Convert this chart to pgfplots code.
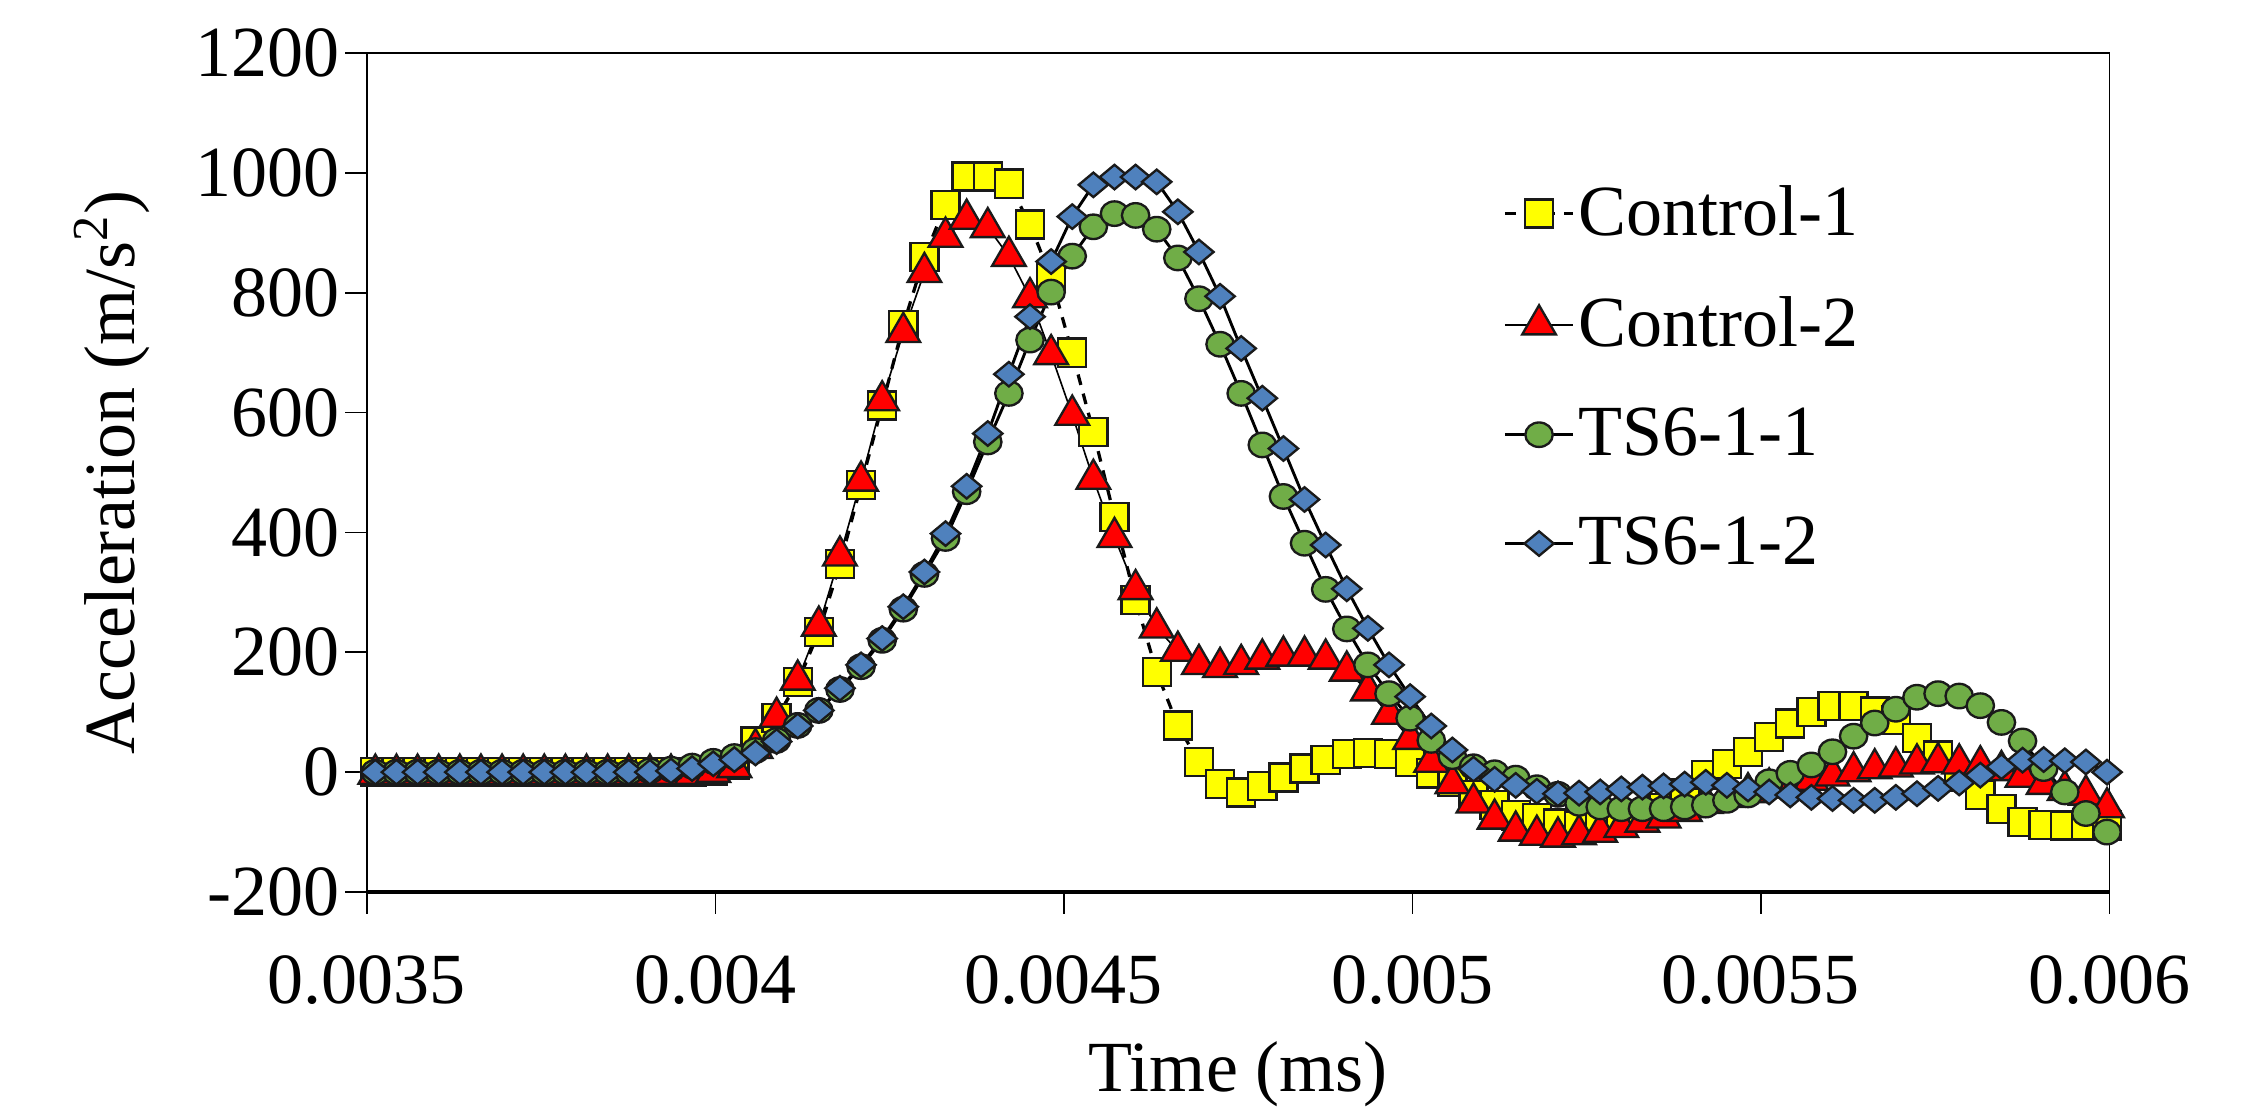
\documentclass[border=0pt]{standalone}
\usepackage{fontspec}
\setmainfont{Liberation Serif}
\usepackage{pgfplots}
\pgfplotsset{compat=1.18}
\usepackage{pgfplotstable}

\definecolor{cyel}{HTML}{FFFF00}
\definecolor{cred}{HTML}{FF0000}
\definecolor{cgreen}{HTML}{70AD47}
\definecolor{cblue}{HTML}{4F81BD}
\definecolor{mdark}{HTML}{1A1A1A}

% t = time, c1/c2 = Control-1/-2, g1/g2 = TS6-1-1/TS6-1-2
\pgfplotstableread{
t c1 c2 g1 g2
0.0035120 0 -3 0 0
0.0035423 0 -3 0 0
0.0035726 0 -3 0 0
0.0036029 0 -3 0 0
0.0036332 0 -3 0 0
0.0036635 0 -3 0 0
0.0036938 0 -3 0 0
0.0037241 0 -3 0 0
0.0037544 0 -3 0 0
0.0037847 0 -3 0 0
0.0038150 0 -3 0 0
0.0038453 0 -3 0 0
0.0038756 0 -3 0 0
0.0039059 0 -3 2 0
0.0039362 0 -3 5 2
0.0039665 0 -3 10 6
0.0039968 3 0 18 14
0.0040271 12 8 26 21
0.0040574 51 40 36 32
0.0040877 90 92 53 51
0.0041180 150 154 78 77
0.0041483 234 244 103 103
0.0041786 347 361 138 140
0.0042089 479 486 176 179
0.0042392 612 620 220 223
0.0042695 746 734 272 276
0.0042998 860 834 330 334
0.0043301 946 893 390 398
0.0043604 994 923 468 477
0.0043907 994 909 551 565
0.0044210 982 861 632 664
0.0044513 914 792 721 760
0.0044816 825 697 801 852
0.0045119 700 596 861 927
0.0045422 568 489 910 980
0.0045725 426 392 932 993
0.0046028 287 305 929 993
0.0046331 167 241 906 985
0.0046634 78 202 858 935
0.0046937 17 180 790 868
0.0047240 -20 175 714 794
0.0047543 -34 180 632 707
0.0047846 -23 189 546 624
0.0048149 -9 194 460 540
0.0048452 6 194 382 455
0.0048755 20 189 305 379
0.0049058 30 169 239 306
0.0049361 32 136 179 240
0.0049664 30 97 131 179
0.0049967 17 55 90 126
0.0050270 -2 17 53 77
0.0050573 -16 -19 26 37
0.0050876 -38 -51 9 5
0.0051179 -55 -78 -1 -12
0.0051482 -72 -98 -10 -22
0.0051785 -77 -105 -26 -32
0.0052088 -86 -108 -37 -36
0.0052391 -89 -104 -52 -35
0.0052694 -88 -100 -58 -33
0.0052997 -84 -92 -61 -28
0.0053300 -75 -83 -61 -25
0.0053603 -60 -76 -61 -23
0.0053906 -35 -65 -58 -20
0.0054209 -5 -52 -55 -17
0.0054512 14 -42 -47 -22
0.0054815 34 -34 -38 -28
0.0055118 59 -26 -16 -33
0.0055421 81 -19 -2 -38
0.0055724 100 -13 12 -42
0.0056027 110 -6 34 -44
0.0056330 110 1 60 -47
0.0056633 101 6 82 -47
0.0056936 87 9 105 -42
0.0057239 57 14 125 -36
0.0057542 28 16 131 -27
0.0057845 -8 14 127 -18
0.0058148 -38 11 111 -5
0.0058451 -61 3 83 9
0.0058754 -83 -8 52 20
0.0059057 -88 -20 6 21
0.0059360 -89 -30 -33 19
0.0059663 -89 -38 -69 17
0.0059966 -89 -59 -100 0
}\accdata

\begin{document}
\begin{tikzpicture}
  \begin{axis}[
    at={(0,0)}, anchor=south west,
    scale only axis,
    width=484pt, height=233.06pt,
    xmin=0.0035, xmax=0.006,
    ymin=-200, ymax=1200,
    xtick={0.0035,0.004,0.0045,0.005,0.0055,0.006},
    xticklabels={0.0035,0.004,0.0045,0.005,0.0055,0.006},
    ytick={-200,0,...,1200},
    scaled x ticks=false,
    /pgf/number format/1000 sep={},
    /pgf/number format/assume math mode=true,
    tick align=outside,
    major tick length=6pt,
    xtick pos=bottom, ytick pos=left,
    axis line style={line width=0.5pt},
    tick style={line width=0.5pt,black},
    tick label style={font=\fontsize{20}{24}\selectfont},
    xticklabel style={yshift=-8pt},
    yticklabel style={xshift=2pt},
    xlabel={Time (ms)},
    ylabel={Acceleration (m/s\textsuperscript{2})},
    xlabel style={at={(axis description cs:0.5,-0.2373)},anchor=base,font=\fontsize{20}{24}\selectfont},
    ylabel style={at={(axis description cs:-0.1336,0.5)},anchor=base,font=\fontsize{20}{24}\selectfont},
    legend style={at={(0.6517,0.8468)},anchor=north west,draw=none,fill=none,
      inner sep=0pt,row sep=13.5pt,column sep=0pt,
      font=\fontsize{20}{24}\selectfont,nodes={inner sep=1pt}},
    legend cell align=left,
    legend image code/.code={\draw[mark repeat=2,mark phase=2,#1]
      plot coordinates {(0pt,0pt) (9.5pt,0pt) (19pt,0pt)};},
    after end axis/.code={\draw[line width=1.3pt] (rel axis cs:0,0) -- (rel axis cs:1,0);}
  ]
    \addplot[black,line width=0.9pt,dash pattern=on 3pt off 2.5pt,
      mark=square*,mark size=3.9pt,
      mark options={solid,fill=cyel,draw=mdark,line width=0.65pt}]
      table[x=t,y=c1]{\accdata};
    \addlegendentry{Control-1}
    \addplot[black,line width=0.45pt,
      mark=triangle*,mark size=5.4pt,
      mark options={solid,fill=cred,draw=mdark,line width=0.65pt}]
      table[x=t,y=c2]{\accdata};
    \addlegendentry{Control-2}
    \addplot[black,line width=0.8pt,
      mark=*,mark size=3.4pt,
      mark options={solid,fill=cgreen,draw=mdark,line width=0.65pt,xscale=1.12}]
      table[x=t,y=g1]{\accdata};
    \addlegendentry{TS6-1-1}
    \addplot[black,line width=0.8pt,
      mark=diamond*,mark size=3.4pt,
      mark options={solid,fill=cblue,draw=mdark,line width=0.65pt,xscale=1.6}]
      table[x=t,y=g2]{\accdata};
    \addlegendentry{TS6-1-2}
  \end{axis}
  \pgfresetboundingbox
  \path (-101.94pt,-60.28pt) rectangle (524.72pt,247.78pt);
\end{tikzpicture}
\end{document}
